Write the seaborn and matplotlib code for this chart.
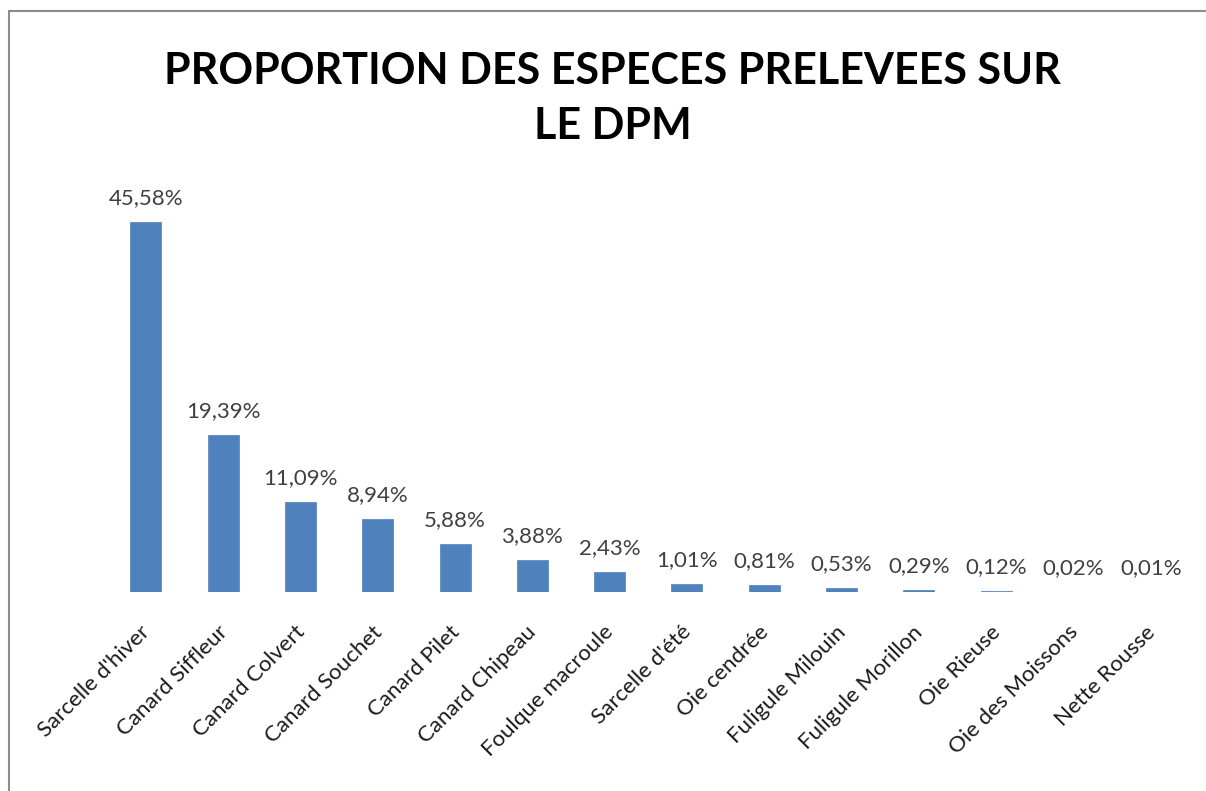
import numpy as np
import pandas as pd
import matplotlib
matplotlib.use("Agg")
import matplotlib.pyplot as plt
import matplotlib.transforms as mtransforms
from matplotlib.lines import Line2D
import seaborn as sns

# ================= DATA =================
especes = [
    "Sarcelle d'hiver", "Canard Siffleur", "Canard Colvert", "Canard Souchet",
    "Canard Pilet", "Canard Chipeau", "Foulque macroule", "Sarcelle d'été",
    "Oie cendrée", "Fuligule Milouin", "Fuligule Morillon", "Oie Rieuse",
    "Oie des Moissons", "Nette Rousse",
]
proportions = [45.58, 19.39, 11.09, 8.94, 5.88, 3.88, 2.43,
               1.01, 0.81, 0.53, 0.29, 0.12, 0.02, 0.01]
title = "PROPORTION DES ESPECES PRELEVEES SUR\nLE DPM"

df = pd.DataFrame({"espece": especes, "proportion": proportions})

# ================= STYLE =================
sns.set_style("white")
plt.rcParams["font.family"] = ["Lato", "DejaVu Sans"]

fig = plt.figure(figsize=(12.06, 7.91), dpi=100)
ax = fig.add_axes([0.0889, 0.2516, 0.8973, 0.5133])

sns.barplot(data=df, x="espece", y="proportion", color="#4F81BD",
            saturation=1, width=0.4, edgecolor="#4F81BD", linewidth=0.5,
            ax=ax)

ax.set_ylim(0, 50)
ax.set_xlim(-0.5, len(especes) - 0.5)
ax.set_xlabel("")
ax.set_ylabel("")
ax.set_yticks([])
for s in ax.spines.values():
    s.set_visible(False)

# value labels, french decimal comma
labels = [f"{v:.2f}".replace(".", ",") + "%" for v in proportions]
ax.bar_label(ax.containers[0], labels=labels, padding=10,
             fontsize=16, color="#404040")

# rotated category labels
ax.tick_params(axis="x", length=0, pad=0)
ax.set_xticks(range(len(especes)))
ax.set_xticklabels(especes, rotation=45, ha="right", va="center",
                   rotation_mode="anchor", fontsize=16, color="#1a1a1a")
offset = mtransforms.ScaledTranslation(0.01, -0.37, fig.dpi_scale_trans)
for lbl in ax.get_xticklabels():
    lbl.set_transform(lbl.get_transform() + offset)

# title
fig.text(0.508, 0.876, title, ha="center", va="center", fontsize=31,
         fontweight="bold", linespacing=1.45, color="black")

# chart area frame (left and top visible)
fig.add_artist(Line2D([9 / 1206, 9 / 1206], [0, 1 - 11 / 791],
                      transform=fig.transFigure, color="#8c8c8c", lw=1.5))
fig.add_artist(Line2D([9 / 1206, 1], [1 - 11 / 791, 1 - 11 / 791],
                      transform=fig.transFigure, color="#8c8c8c", lw=1.5))

plt.savefig("out.png", dpi=100)
plt.close()
